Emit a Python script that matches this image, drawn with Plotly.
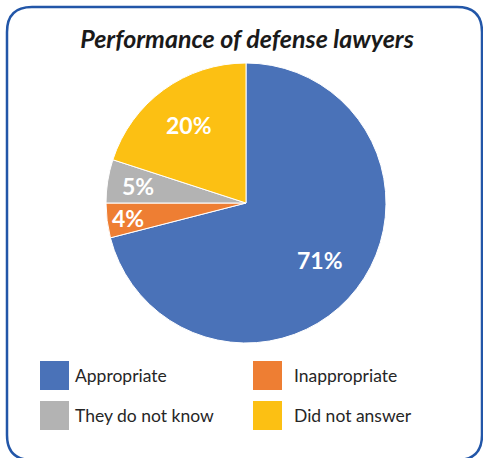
import math
import plotly.graph_objects as go

labels = ["Appropriate", "Inappropriate", "They do not know", "Did not answer"]
values = [71, 4, 5, 20]
colors = ["#4A72B8", "#EE7E33", "#B3B3B3", "#FCC013"]
title_text = "Performance of defense lawyers"

# style: radial position (fraction of radius) of each slice label
label_radius = [0.67, 0.85, 0.78, 0.69]

W, H = 483, 458
CX, CY, R = 246, 203, 140

def px(x):
    return x / W

def py(y):
    return 1 - y / H

fig = go.Figure()
fig.add_trace(go.Pie(
    labels=labels,
    values=values,
    marker=dict(colors=colors, line=dict(color="white", width=1)),
    sort=False,
    direction="clockwise",
    rotation=0,
    textinfo="none",
    domain=dict(x=[px(CX - R), px(CX + R)], y=[py(CY + R), py(CY - R)]),
    showlegend=False,
    hoverinfo="label+percent",
))

annotations = []
total = sum(values)
cum = 0
for v, fr in zip(values, label_radius):
    mid = (cum + v / 2) / total * 2 * math.pi
    cum += v
    lx = CX + fr * R * math.sin(mid)
    ly = CY - fr * R * math.cos(mid)
    annotations.append(dict(text=f"{round(100 * v / total)}%", xref="paper", yref="paper",
                            x=px(lx), y=py(ly), xanchor="center", yanchor="middle",
                            showarrow=False,
                            font=dict(family="Lato", size=23, color="white", weight="bold")))

# rounded frame
x0, y0, x1, y1, r = 7, 7, 482, 460, 25
path = (f"M {px(x0+r)},{py(y0)} L {px(x1-r)},{py(y0)} "
        f"Q {px(x1)},{py(y0)} {px(x1)},{py(y0+r)} "
        f"L {px(x1)},{py(y1-r)} Q {px(x1)},{py(y1)} {px(x1-r)},{py(y1)} "
        f"L {px(x0+r)},{py(y1)} Q {px(x0)},{py(y1)} {px(x0)},{py(y1-r)} "
        f"L {px(x0)},{py(y0+r)} Q {px(x0)},{py(y0)} {px(x0+r)},{py(y0)} Z")
shapes = [dict(type="path", xref="paper", yref="paper", path=path,
               line=dict(color="#2256A8", width=2.5), fillcolor="rgba(0,0,0,0)")]

# manual legend, 2 columns
col_x = [40, 253]
text_x = [73, 292]
row_y = [361, 401]
sq = 29
for i, (lab, col) in enumerate(zip(labels, colors)):
    cx = col_x[i % 2]
    ry = row_y[i // 2]
    shapes.append(dict(type="rect", xref="paper", yref="paper",
                       x0=px(cx), x1=px(cx + sq), y0=py(ry + sq), y1=py(ry),
                       fillcolor=col, line=dict(width=0)))
    annotations.append(dict(text=lab, xref="paper", yref="paper",
                            x=px(text_x[i % 2]), y=py(ry + sq / 2),
                            xanchor="left", yanchor="middle", showarrow=False,
                            font=dict(family="Lato", size=17.5, color="#262626")))

fig.update_layout(
    width=W, height=H,
    margin=dict(l=0, r=0, t=0, b=0),
    paper_bgcolor="white",
    plot_bgcolor="white",
    title=dict(text=title_text, x=px(247), xanchor="center", y=py(39), yanchor="middle",
               font=dict(family="Lato", size=25, color="#1A1A1A", weight="bold", style="italic")),
    shapes=shapes,
    annotations=annotations,
)

fig.write_html("out.html", config={"displayModeBar": False},
               post_script="document.body.style.margin='0px';document.body.style.overflow='hidden';")
